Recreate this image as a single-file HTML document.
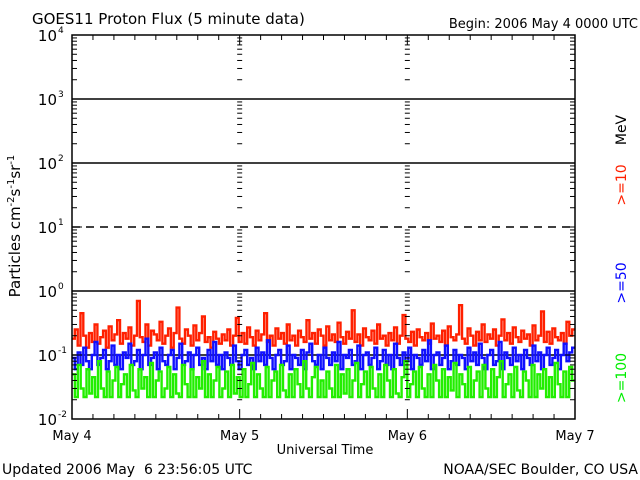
<!DOCTYPE html>
<html><head><meta charset="utf-8"><style>
html,body{margin:0;padding:0;background:#fff;}
svg{display:block;font-family:"DejaVu Sans","Liberation Sans",sans-serif;}
</style></head><body>
<svg id="chart" width="640" height="480" viewBox="0 0 640 480" xmlns="http://www.w3.org/2000/svg">
<rect width="640" height="480" fill="#fff"/>
<text x="32" y="24" font-size="15">GOES11 Proton Flux (5 minute data)</text>
<text x="638" y="28" font-size="13" text-anchor="end">Begin: 2006 May 4 0000 UTC</text>
<g id="grid"></g>
<g id="series"></g>
<g id="axes"></g>
<text transform="translate(20,226) rotate(-90)" font-size="15" text-anchor="middle">Particles cm<tspan dy="-6" font-size="10">-2</tspan><tspan dy="6">s</tspan><tspan dy="-6" font-size="10">-1</tspan><tspan dy="6">sr</tspan><tspan dy="-6" font-size="10">-1</tspan></text>
<text x="325" y="454" font-size="13" text-anchor="middle">Universal Time</text>
<text x="2" y="474" font-size="14" xml:space="preserve">Updated 2006 May  6 23:56:05 UTC</text>
<text x="638" y="474" font-size="14" text-anchor="end">NOAA/SEC Boulder, CO USA</text>
<text transform="translate(626,130) rotate(-90)" font-size="14" text-anchor="middle">MeV</text>
<text transform="translate(626,185) rotate(-90)" font-size="14" text-anchor="middle" fill="#ff2000">&gt;=10</text>
<text transform="translate(626,283) rotate(-90)" font-size="14" text-anchor="middle" fill="#0000ff">&gt;=50</text>
<text transform="translate(626,378) rotate(-90)" font-size="14" text-anchor="middle" fill="#00ee00">&gt;=100</text>
</svg>
<script>
const dayLabels=["May 4","May 5","May 6","May 7"];
const decadeExps=[-2,-1,0,1,2,3,4];
const red=[0.18,0.25,0.14,0.45,0.2,0.13,0.22,0.16,0.3,0.15,0.19,0.24,0.13,0.28,0.17,0.21,0.35,0.15,0.22,0.18,0.27,0.14,0.2,0.7,0.19,0.16,0.3,0.14,0.24,0.21,0.17,0.33,0.15,0.2,0.26,0.13,0.22,0.55,0.18,0.15,0.25,0.2,0.14,0.29,0.17,0.22,0.4,0.16,0.19,0.13,0.23,0.18,0.15,0.21,0.17,0.25,0.14,0.2,0.38,0.16,0.22,0.15,0.27,0.19,0.14,0.24,0.17,0.21,0.45,0.16,0.2,0.14,0.26,0.18,0.22,0.15,0.3,0.17,0.2,0.14,0.24,0.19,0.16,0.35,0.18,0.22,0.15,0.25,0.2,0.14,0.28,0.17,0.21,0.16,0.32,0.19,0.15,0.23,0.18,0.5,0.16,0.21,0.14,0.26,0.19,0.17,0.24,0.15,0.3,0.18,0.2,0.14,0.22,0.17,0.27,0.15,0.2,0.42,0.18,0.16,0.23,0.14,0.25,0.19,0.17,0.22,0.15,0.31,0.18,0.2,0.16,0.24,0.14,0.28,0.19,0.17,0.21,0.6,0.18,0.15,0.26,0.2,0.14,0.23,0.17,0.3,0.16,0.21,0.18,0.25,0.14,0.2,0.36,0.17,0.22,0.15,0.27,0.19,0.16,0.24,0.18,0.21,0.14,0.29,0.17,0.2,0.48,0.16,0.23,0.15,0.26,0.19,0.17,0.22,0.15,0.33,0.2,0.25];
const blue=[0.09,0.06,0.11,0.07,0.13,0.08,0.06,0.1,0.16,0.07,0.09,0.12,0.06,0.08,0.14,0.07,0.1,0.06,0.11,0.09,0.15,0.07,0.08,0.12,0.06,0.1,0.18,0.07,0.09,0.11,0.06,0.13,0.08,0.07,0.1,0.12,0.06,0.09,0.15,0.07,0.08,0.11,0.06,0.1,0.13,0.07,0.09,0.06,0.12,0.08,0.16,0.07,0.1,0.06,0.11,0.09,0.07,0.14,0.08,0.06,0.1,0.12,0.07,0.09,0.06,0.13,0.08,0.11,0.07,0.17,0.09,0.06,0.1,0.12,0.07,0.08,0.14,0.06,0.1,0.09,0.07,0.12,0.06,0.11,0.15,0.08,0.07,0.1,0.06,0.13,0.09,0.07,0.11,0.08,0.16,0.06,0.1,0.09,0.12,0.07,0.08,0.14,0.06,0.1,0.11,0.07,0.09,0.13,0.06,0.08,0.12,0.07,0.1,0.06,0.15,0.09,0.07,0.11,0.08,0.13,0.06,0.1,0.09,0.07,0.12,0.08,0.17,0.06,0.1,0.11,0.07,0.09,0.14,0.06,0.08,0.12,0.07,0.1,0.09,0.06,0.13,0.08,0.11,0.07,0.15,0.09,0.06,0.1,0.12,0.07,0.08,0.16,0.06,0.11,0.09,0.07,0.13,0.08,0.1,0.06,0.12,0.09,0.07,0.14,0.08,0.11,0.06,0.1,0.13,0.07,0.09,0.12,0.06,0.1,0.15,0.08,0.11,0.13];
const green=[0.05,0.022,0.07,0.03,0.022,0.06,0.025,0.045,0.022,0.08,0.03,0.022,0.055,0.022,0.04,0.065,0.022,0.035,0.05,0.022,0.07,0.028,0.022,0.06,0.03,0.045,0.022,0.075,0.022,0.04,0.055,0.022,0.03,0.065,0.022,0.05,0.025,0.022,0.07,0.035,0.022,0.06,0.022,0.045,0.03,0.08,0.022,0.05,0.022,0.04,0.065,0.022,0.03,0.055,0.022,0.07,0.025,0.045,0.022,0.06,0.022,0.035,0.075,0.022,0.05,0.03,0.022,0.065,0.022,0.04,0.055,0.022,0.07,0.028,0.022,0.05,0.022,0.06,0.035,0.022,0.08,0.03,0.022,0.045,0.065,0.022,0.04,0.022,0.055,0.03,0.022,0.07,0.022,0.05,0.025,0.06,0.022,0.04,0.075,0.022,0.035,0.055,0.022,0.065,0.03,0.022,0.05,0.022,0.07,0.04,0.022,0.06,0.025,0.022,0.045,0.08,0.022,0.035,0.055,0.022,0.065,0.03,0.022,0.05,0.022,0.07,0.04,0.022,0.06,0.022,0.045,0.028,0.075,0.022,0.05,0.035,0.022,0.065,0.022,0.04,0.055,0.022,0.07,0.03,0.022,0.06,0.022,0.045,0.08,0.022,0.035,0.05,0.022,0.065,0.028,0.022,0.055,0.04,0.022,0.07,0.022,0.05,0.03,0.06,0.022,0.045,0.022,0.075,0.035,0.022,0.055,0.022,0.065,0.04];

const X0=72,X1=575,Y0=35,Y1=419;
const NS="http://www.w3.org/2000/svg";
function xDay(d){return X0+(X1-X0)*d/3;}
function yVal(v){return Y1-(Math.log10(v)+2)/6*(Y1-Y0);}
function mk(tag,attrs,parent){const e=document.createElementNS(NS,tag);for(const k in attrs)e.setAttribute(k,attrs[k]);parent.appendChild(e);return e;}
const grid=document.getElementById('grid'),axes=document.getElementById('axes'),ser=document.getElementById('series');

decadeExps.forEach(e=>{
  if(e===-2||e===4)return;
  const y=yVal(Math.pow(10,e));
  const l=mk('line',{x1:X0,x2:X1,y1:y,y2:y,stroke:'#000','stroke-width':1.5},grid);
  if(e===1)l.setAttribute('stroke-dasharray','8,6');
  
  
});

[0,1,2,3].forEach(d=>{
  const x=xDay(d);
  for(let e=-2;e<4;e++){
    for(let m=1;m<10;m++){
      const y=yVal(m*Math.pow(10,e));
      const len=(m===1)?10:5;
      if(d===0)mk('line',{x1:x,x2:x+len,y1:y,y2:y,stroke:'#000','stroke-width':1},axes);
      else if(d===3)mk('line',{x1:x-len,x2:x,y1:y,y2:y,stroke:'#000','stroke-width':1},axes);
      else if(m>1)mk('line',{x1:x-2.5,x2:x+2.5,y1:y,y2:y,stroke:'#000','stroke-width':1},axes);
    }
  }
});

// histogram-style step series
function drawSeries(arr,color,name){
  const n=arr.length,w=(X1-X0)/n;
  let pts=[];
  arr.forEach((v,i)=>{
    const y=yVal(v).toFixed(1);
    pts.push((X0+i*w).toFixed(1)+','+y);
    pts.push((X0+(i+1)*w).toFixed(1)+','+y);
  });
  const p=mk('polyline',{points:pts.join(' '),fill:'none',stroke:color,'stroke-width':2.4,'stroke-linejoin':'miter'},ser);
  
  
}
drawSeries(red,'#ff2000','series-10mev');
drawSeries(blue,'#1010ff','series-50mev');
drawSeries(green,'#22ee00','series-100mev');

const fr=mk('rect',{x:X0,y:Y0,width:X1-X0,height:Y1-Y0,fill:'none',stroke:'#000','stroke-width':1.5},axes);



for(let h=0;h<=72;h+=3){
  const x=xDay(h/24);
  const len=(h%24===0)?10:5;
  mk('line',{x1:x,x2:x,y1:Y1,y2:Y1-len,stroke:'#000','stroke-width':1},axes);
  mk('line',{x1:x,x2:x,y1:Y0,y2:Y0+len,stroke:'#000','stroke-width':1},axes);
}
dayLabels.forEach((s,i)=>{
  const t=mk('text',{x:xDay(i),y:440,'font-size':13,'text-anchor':'middle'},axes);
  t.textContent=s;
  
  
});
decadeExps.forEach(e=>{
  const y=yVal(Math.pow(10,e));
  const t=mk('text',{x:57,y:y+6,'font-size':15,'text-anchor':'end'},axes);
  t.textContent='10';
  
  
  const s=mk('text',{x:58,y:y-2,'font-size':9},axes);
  s.textContent=String(e);
  
  
});
</script>
</body></html>
